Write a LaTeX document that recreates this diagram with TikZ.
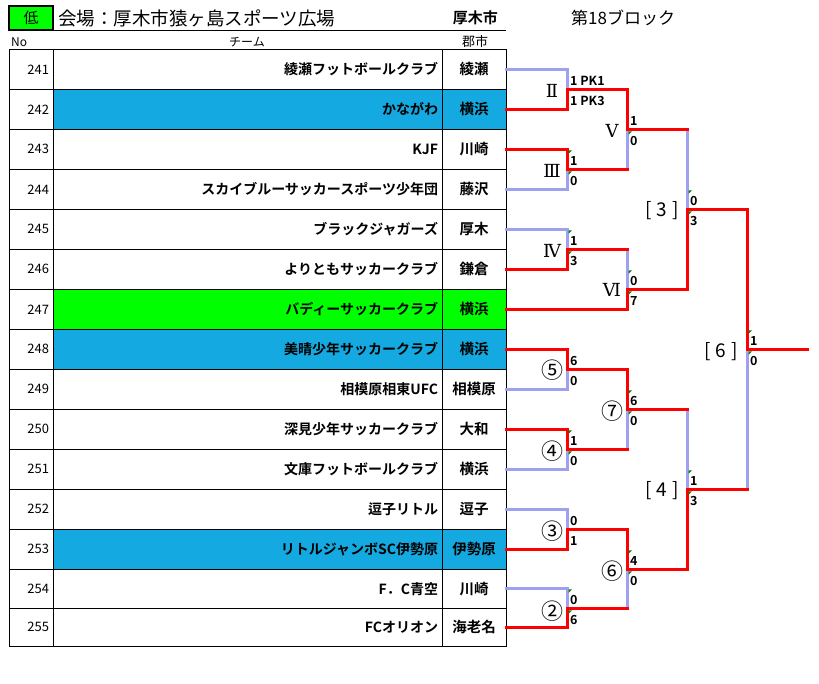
\documentclass[tikz,border=0pt]{standalone}
\usepackage{fontspec}
\setmainfont{Noto Sans CJK JP}[BoldFont={Noto Sans CJK JP Bold}]
\newfontfamily\romfont{DejaVu Serif}
\definecolor{cellblue}{RGB}{20,170,225}
\definecolor{cellgreen}{RGB}{0,255,0}
\definecolor{losecol}{RGB}{160,160,240}
\definecolor{tickgreen}{RGB}{0,128,0}
\newcommand\fsz[1]{\fontsize{#1}{#1}\selectfont}
\newcommand\gticks[1]{%
  \fill[tick,shift={(#1)}] (1.5,-19) -- ++(3.5,0) -- ++(-3.5,3.5) -- cycle;
  \fill[tick,shift={(#1)}] (1.5,2) -- ++(3.5,0) -- ++(-3.5,3.5) -- cycle;}
\begin{document}
\begin{tikzpicture}[x=1pt,y=-1pt,
  cellbase/.style={draw=black,line width=1pt,inner ysep=0pt,outer sep=0pt,anchor=north west},
  numcell/.style={cellbase,text width=35.5pt,inner xsep=4pt,align=right,font=\fsz{13}},
  teamcell/.style={cellbase,text width=381pt,inner xsep=4pt,align=right,font=\fsz{14}\bfseries},
  citycell/.style={cellbase,text width=56pt,inner xsep=4pt,align=center,font=\fsz{14.5}\bfseries},
  win/.style={draw=red,line width=3pt,line cap=rect},
  lose/.style={draw=losecol,line width=3pt,line cap=rect},
  score/.style={anchor=west,inner sep=0pt,font=\fsz{12.5}\bfseries},
  rnd/.style={inner sep=0pt,font=\romfont\fsz{18}},
  circ/.style={inner sep=0pt,font=\fsz{22}},
  brk/.style={inner sep=0pt,font=\fsz{19}},
  tick/.style={fill=tickgreen}]
\useasboundingbox[fill=white] (0,0) rectangle (819,683);

% title
\node[draw=black,line width=1.5pt,fill=cellgreen,minimum width=44pt,minimum height=24pt,inner sep=0pt,font=\fsz{15}] (low) at (31,18) {低};
\node[anchor=west,inner sep=0pt,font=\fsz{18.5}] (venue) at (58,18) {会場：厚木市猿ヶ島スポーツ広場};
\node[anchor=east,inner sep=0pt,font=\fsz{15}\bfseries] (city) at (498,18) {厚木市};
\node[anchor=west,inner sep=0pt,font=\fsz{17}] (block) at (571,18) {第18ブロック};
\draw[line width=1.2pt] (9,30.5) -- (506,30.5);
\node[anchor=west,inner sep=0pt,font=\fsz{12}] (hno) at (11,42) {No};
\node[inner sep=0pt,font=\fsz{12}] (hteam) at (247,42) {チーム};
\node[inner sep=0pt,font=\fsz{13}] (hcity) at (475,42) {郡市};

% table
\foreach \n/\tm/\ct/\fc/\yt/\h in {
 241/綾瀬フットボールクラブ/綾瀬/white/49.3/40,
 242/かながわ/横浜/cellblue/89.3/40,
 243/KJF/川崎/white/129.3/40,
 244/スカイブルーサッカースポーツ少年団/藤沢/white/169.3/40,
 245/ブラックジャガーズ/厚木/white/209.3/40,
 246/よりともサッカークラブ/鎌倉/white/249.3/40,
 247/バディーサッカークラブ/横浜/cellgreen/289.3/40,
 248/美晴少年サッカークラブ/横浜/cellblue/329.3/40,
 249/相模原相東UFC/相模原/white/369.3/40,
 250/深見少年サッカークラブ/大和/white/409.3/40,
 251/文庫フットボールクラブ/横浜/white/449.3/40,
 252/逗子リトル/逗子/white/489.3/40,
 253/リトルジャンボSC伊勢原/伊勢原/cellblue/529.3/40,
 254/F．C青空/川崎/white/569.3/39,
 255/FCオリオン/海老名/white/608.3/37.7}
{
  \node[numcell,minimum height=\h pt] (n\n) at (9.5,\yt) {\n};
  \node[teamcell,fill=\fc,minimum height=\h pt] (t\n) at (53,\yt) {\tm};
  \node[citycell,fill=\fc,minimum height=\h pt] (c\n) at (442,\yt) {\ct};
}

% junctions
\coordinate (xa) at (567,0);
\coordinate (xb) at (627,0);
\coordinate (xc) at (687,0);
\coordinate (xd) at (747,0);
\coordinate (m2) at (xa |- c241.south);
\coordinate (m3) at (xa |- c243.south);
\coordinate (m5) at (xb |- c242.south);
\coordinate (m4) at (xa |- c245.south);
\coordinate (m6) at (xb |- c246.south);
\coordinate (k3) at (xc |- c244.south);
\coordinate (r5) at (xa |- c248.south);
\coordinate (r4) at (xa |- c250.south);
\coordinate (r7) at (xb |- c249.south);
\coordinate (r3) at (xa |- c252.south);
\coordinate (r2) at (xa |- c254.south);
\coordinate (r6) at (xb |- c253.south);
\coordinate (k4) at (xc |- c251.south);
\coordinate (k6) at (xd |- c248.center);
\coordinate (fin) at ([xshift=60pt]k6);

% losing lines
\draw[lose] (c241.east) -| (m2);
\draw[lose] (c244.east) -| (m3);
\draw[lose] (m3 -| m5) -- (m5);
\draw[lose] (c245.east) -| (m4);
\draw[lose] (m4 -| m6) -- (m6);
\draw[lose] (m5 -| k3) -- (k3);
\draw[lose] (c249.east) -| (r5);
\draw[lose] (c251.east) -| (r4);
\draw[lose] (r4 -| r7) -- (r7);
\draw[lose] (c252.east) -| (r3);
\draw[lose] (c254.east) -| (r2);
\draw[lose] (r2 -| r6) -- (r6);
\draw[lose] (r7 -| k4) -- (k4);
\draw[lose] (k4 -| k6) -- (k6);

% winning lines
\draw[win] (c242.east) -| (m2);
\draw[win] (m2) -| (m5);
\draw[win] (c243.east) -| (m3);
\draw[win] (m3) -- (m3 -| m5);
\draw[win] (m5) -- (m5 -| k3);
\draw[win] (c246.east) -| (m4);
\draw[win] (m4) -- (m4 -| m6);
\draw[win] (c247.east) -| (m6);
\draw[win] (m6) -| (k3);
\draw[win] (k3) -| (k6);
\draw[win] (k6) -- (fin);
\draw[win] (c248.east) -| (r5);
\draw[win] (r5) -| (r7);
\draw[win] (c250.east) -| (r4);
\draw[win] (r4) -- (r4 -| r7);
\draw[win] (r7) -- (r7 -| k4);
\draw[win] (c253.east) -| (r3);
\draw[win] (r3) -| (r6);
\draw[win] (c255.east) -| (r2);
\draw[win] (r2) -- (r2 -| r6);
\draw[win] (r6) -| (k4);
\draw[win] (k4) -- (k4 -| k6);

% green ticks
\gticks{m3}
\fill[tick,shift={(m5)}] (1.5,2) -- ++(3.5,0) -- ++(-3.5,3.5) -- cycle;
\gticks{k3}
\gticks{m4}
\gticks{m6}
\gticks{k6}
\gticks{r7}
\gticks{r4}
\gticks{k4}
\gticks{r6}
\gticks{r2}

% scores
\node[score] (s2a) at ([shift={(3,-8)}]m2) {1 PK1};
\node[score] (s2b) at ([shift={(3,12)}]m2) {1 PK3};
\node[score] (s3a) at ([shift={(3,-8)}]m3) {1};
\node[score] (s3b) at ([shift={(3,12)}]m3) {0};
\node[score] (s5a) at ([shift={(3,-8)}]m5) {1};
\node[score] (s5b) at ([shift={(3,12)}]m5) {0};
\node[score] (s4a) at ([shift={(3,-8)}]m4) {1};
\node[score] (s4b) at ([shift={(3,12)}]m4) {3};
\node[score] (s6a) at ([shift={(3,-8)}]m6) {0};
\node[score] (s6b) at ([shift={(3,12)}]m6) {7};
\node[score] (sk3a) at ([shift={(3,-8)}]k3) {0};
\node[score] (sk3b) at ([shift={(3,12)}]k3) {3};
\node[score] (sk6a) at ([shift={(3,-8)}]k6) {1};
\node[score] (sk6b) at ([shift={(3,12)}]k6) {0};
\node[score] (sr5a) at ([shift={(3,-8)}]r5) {6};
\node[score] (sr5b) at ([shift={(3,12)}]r5) {0};
\node[score] (sr4a) at ([shift={(3,-8)}]r4) {1};
\node[score] (sr4b) at ([shift={(3,12)}]r4) {0};
\node[score] (sr7a) at ([shift={(3,-8)}]r7) {6};
\node[score] (sr7b) at ([shift={(3,12)}]r7) {0};
\node[score] (sk4a) at ([shift={(3,-8)}]k4) {1};
\node[score] (sk4b) at ([shift={(3,12)}]k4) {3};
\node[score] (sr3a) at ([shift={(3,-8)}]r3) {0};
\node[score] (sr3b) at ([shift={(3,12)}]r3) {1};
\node[score] (sr6a) at ([shift={(3,-8)}]r6) {4};
\node[score] (sr6b) at ([shift={(3,12)}]r6) {0};
\node[score] (sr2a) at ([shift={(3,-8)}]r2) {0};
\node[score] (sr2b) at ([shift={(3,12)}]r2) {6};

% round labels
\node[rnd] (lm2) at ([shift={(-15,2)}]m2) {Ⅱ};
\node[rnd] (lm3) at ([shift={(-15,2)}]m3) {Ⅲ};
\node[rnd] (lm5) at ([shift={(-15,2)}]m5) {Ⅴ};
\node[rnd] (lm4) at ([shift={(-15,2)}]m4) {Ⅳ};
\node[rnd] (lm6) at ([shift={(-15,1)}]m6) {Ⅵ};
\node[brk] (lk3) at ([shift={(-25,1)}]k3) {[\hspace{5pt}3\hspace{5pt}]};
\node[brk] (lk6) at ([shift={(-26,2)}]k6) {[\hspace{5pt}6\hspace{5pt}]};
\node[circ] (lr5) at ([shift={(-15,1)}]r5) {⑤};
\node[circ] (lr4) at ([shift={(-15,2)}]r4) {④};
\node[circ] (lr7) at ([shift={(-15,2)}]r7) {⑦};
\node[brk] (lk4) at ([shift={(-25,1)}]k4) {[\hspace{5pt}4\hspace{5pt}]};
\node[circ] (lr3) at ([shift={(-15,2)}]r3) {③};
\node[circ] (lr6) at ([shift={(-15,2)}]r6) {⑥};
\node[circ] (lr2) at ([shift={(-15,3)}]r2) {②};
\end{tikzpicture}
\end{document}
